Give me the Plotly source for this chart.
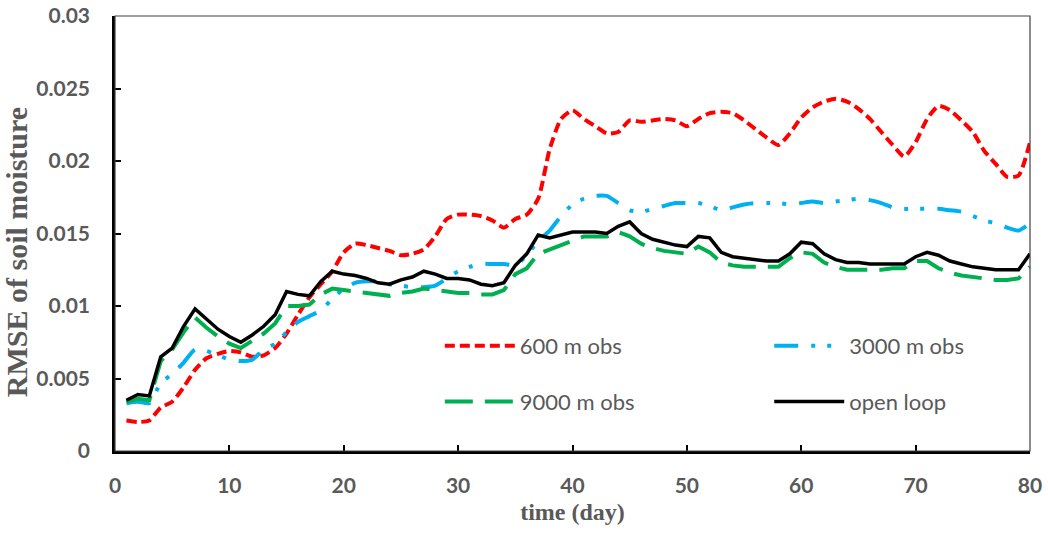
import plotly.graph_objects as go

days = list(range(1, 81))

rmse_600 = [0.0021, 0.0020, 0.0021, 0.0030, 0.0034, 0.0044, 0.0056, 0.0064, 0.0067, 0.0069,
            0.0068, 0.0065, 0.0066, 0.0071, 0.0081, 0.0094, 0.0106, 0.0115, 0.0124, 0.0137,
            0.0143, 0.0142, 0.0140, 0.0138, 0.0135, 0.0136, 0.0139, 0.0148, 0.0160, 0.0163,
            0.0163, 0.0162, 0.0159, 0.0154, 0.0160, 0.0163, 0.0174, 0.0208, 0.0229, 0.0235,
            0.0229, 0.0224, 0.0219, 0.0220, 0.0228, 0.0227, 0.0228, 0.0229, 0.0228, 0.0224,
            0.0229, 0.0233, 0.0234, 0.0233, 0.0228, 0.0222, 0.0216, 0.0211, 0.0219, 0.0230,
            0.0237, 0.0241, 0.0243, 0.0241, 0.0236, 0.0229, 0.0220, 0.0211, 0.0203, 0.0213,
            0.0229, 0.0238, 0.0235, 0.0228, 0.0220, 0.0207, 0.0198, 0.0189, 0.0190, 0.0213]

rmse_3000 = [0.0033, 0.0034, 0.0033, 0.0047, 0.0053, 0.0061, 0.0070, 0.0069, 0.0066, 0.0063,
             0.0062, 0.0063, 0.0070, 0.0074, 0.0082, 0.0089, 0.0093, 0.0097, 0.0105, 0.0112,
             0.0116, 0.0117, 0.0117, 0.0115, 0.0114, 0.0113, 0.0113, 0.0114, 0.0119, 0.0124,
             0.0127, 0.0129, 0.0129, 0.0129, 0.0128, 0.0135, 0.0145, 0.0152, 0.0162, 0.0170,
             0.0174, 0.0176, 0.0176, 0.0171, 0.0166, 0.0165, 0.0167, 0.0169, 0.0171, 0.0171,
             0.0171, 0.0169, 0.0166, 0.0168, 0.0170, 0.0171, 0.0171, 0.0171, 0.0170, 0.0171,
             0.0172, 0.0171, 0.0172, 0.0173, 0.0174, 0.0173, 0.0171, 0.0168, 0.0167, 0.0167,
             0.0167, 0.0167, 0.0166, 0.0165, 0.0162, 0.0159, 0.0157, 0.0154, 0.0152, 0.0157]

rmse_9000 = [0.0034, 0.0036, 0.0035, 0.0062, 0.0070, 0.0082, 0.0092, 0.0085, 0.0079, 0.0074,
             0.0071, 0.0076, 0.0081, 0.0088, 0.0100, 0.0100, 0.0101, 0.0108, 0.0112, 0.0111,
             0.0110, 0.0109, 0.0108, 0.0107, 0.0109, 0.0110, 0.0112, 0.0111, 0.0110, 0.0109,
             0.0109, 0.0108, 0.0108, 0.0111, 0.0122, 0.0126, 0.0136, 0.0139, 0.0142, 0.0145,
             0.0148, 0.0148, 0.0148, 0.0151, 0.0148, 0.0143, 0.0140, 0.0138, 0.0137, 0.0136,
             0.0141, 0.0137, 0.0130, 0.0128, 0.0127, 0.0127, 0.0127, 0.0127, 0.0133, 0.0137,
             0.0136, 0.0130, 0.0127, 0.0125, 0.0125, 0.0125, 0.0125, 0.0126, 0.0126, 0.0131,
             0.0131, 0.0126, 0.0123, 0.0121, 0.0120, 0.0119, 0.0118, 0.0118, 0.0119, 0.0127]

rmse_open = [0.0035, 0.0039, 0.0038, 0.0065, 0.0071, 0.0086, 0.0098, 0.0091, 0.0084, 0.0079,
             0.0075, 0.0080, 0.0086, 0.0094, 0.0110, 0.0108, 0.0107, 0.0117, 0.0124, 0.0122,
             0.0121, 0.0119, 0.0116, 0.0115, 0.0118, 0.0120, 0.0124, 0.0122, 0.0119, 0.0119,
             0.0118, 0.0115, 0.0114, 0.0116, 0.0128, 0.0136, 0.0149, 0.0147, 0.0149, 0.0151,
             0.0151, 0.0151, 0.0150, 0.0155, 0.0158, 0.0150, 0.0146, 0.0144, 0.0142, 0.0141,
             0.0148, 0.0147, 0.0137, 0.0134, 0.0133, 0.0132, 0.0131, 0.0131, 0.0136, 0.0144,
             0.0143, 0.0136, 0.0132, 0.0130, 0.0130, 0.0129, 0.0129, 0.0129, 0.0129, 0.0134,
             0.0137, 0.0135, 0.0131, 0.0129, 0.0127, 0.0126, 0.0125, 0.0125, 0.0125, 0.0136]

series_names = ["600 m obs", "3000 m obs", "9000 m obs", "open loop"]

x_tickvals = [0, 10, 20, 30, 40, 50, 60, 70, 80]
y_tickvals = [0, 0.005, 0.01, 0.015, 0.02, 0.025, 0.03]
y_ticktext = ["0", "0.005", "0.01", "0.015", "0.02", "0.025", "0.03"]

x_title = "time (day)"
y_title = "RMSE of soil moisture"

fig = go.Figure()
fig.add_trace(go.Scatter(x=days, y=rmse_600, mode="lines", name=series_names[0],
                         line=dict(color="#FF0000", width=4, dash="10px,5px", shape="spline", smoothing=0.6),
                         legend="legend", legendgroup="a"))
fig.add_trace(go.Scatter(x=days, y=rmse_3000, mode="lines", name=series_names[1],
                         line=dict(color="#00B0F0", width=4, dash="24px,13px,4px,12px,4px,13px",
                                   shape="spline", smoothing=0.6),
                         legend="legend2", legendgroup="b"))
fig.add_trace(go.Scatter(x=days, y=rmse_9000, mode="lines", name=series_names[2],
                         line=dict(color="#00B050", width=4, dash="28px,12px"),
                         legend="legend", legendgroup="c"))
fig.add_trace(go.Scatter(x=days, y=rmse_open, mode="lines", name=series_names[3],
                         line=dict(color="#000000", width=3.5),
                         legend="legend2", legendgroup="d"))

title_font_serif = "Liberation Serif"

legend_common = dict(
    font=dict(family="Lato", size=22, color="#595959"),
    bgcolor="rgba(0,0,0,0)",
    traceorder="grouped",
    tracegroupgap=24,
    itemwidth=70,
    yanchor="middle",
    xanchor="left",
    y=0.177,
)

fig.update_layout(
    width=1048, height=534,
    margin=dict(l=115, r=18, t=16, b=83),
    paper_bgcolor="white", plot_bgcolor="white",
    showlegend=True,
    legend=dict(x=0.355, **legend_common),
    legend2=dict(x=0.715, **legend_common),
    xaxis=dict(
        range=[0, 80], tickvals=x_tickvals, ticktext=[str(v) for v in x_tickvals],
        showgrid=False, zeroline=False, automargin=False,
        showline=True, linecolor="#000000", linewidth=2.5,
        ticks="inside", ticklen=6, tickwidth=1.5, tickcolor="#000000",
        tickfont=dict(family="Lato", size=21, color="#595959", weight="bold"),
        ticklabelstandoff=14,
        title=dict(text=x_title, font=dict(family=title_font_serif, size=24, color="#595959", weight="bold"),
                   standoff=8),
    ),
    yaxis=dict(
        range=[0, 0.03], tickvals=y_tickvals, ticktext=y_ticktext,
        showgrid=False, zeroline=False, automargin=False,
        showline=True, linecolor="#000000", linewidth=2.5,
        ticks="inside", ticklen=6, tickwidth=1.5, tickcolor="#000000",
        tickfont=dict(family="Lato", size=21, color="#595959", weight="bold"),
        ticklabelstandoff=18,
    ),
    annotations=[dict(text=y_title, xref="paper", yref="paper", x=0, y=0.457,
                      xanchor="center", yanchor="middle", xshift=-99, textangle=-90,
                      showarrow=False,
                      font=dict(family=title_font_serif, size=30, color="#595959", weight="bold"))],
    shapes=[dict(type="rect", xref="paper", yref="paper", x0=0, x1=1, y0=0, y1=1,
                 line=dict(color="#404040", width=1.2), layer="above")],
)

fig.write_html("out.html")
